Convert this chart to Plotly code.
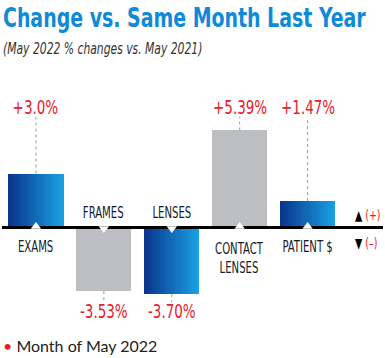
import plotly.graph_objects as go

categories = ["EXAMS", "FRAMES", "LENSES", "CONTACT<br>LENSES", "PATIENT $"]
values = [3.0, -3.53, -3.70, 5.39, 1.47]
value_labels = ["+3.0%", "-3.53%", "-3.70%", "+5.39%", "+1.47%"]
bar_style = ["blue", "gray", "blue", "gray", "blue"]

RED = "#e8202a"
GRAY_BAR = "#bdbec2"
BLUE_L = (10, 55, 140)
BLUE_R = (25, 160, 228)
NARROW = "DejaVu Sans Condensed, DejaVu Sans, sans-serif"

x = list(range(len(categories)))
W = 0.81
N = 24

fig = go.Figure()

# gray bars
gx = [i for i in x if bar_style[i] == "gray"]
fig.add_trace(go.Bar(x=gx, y=[values[i] for i in gx], width=W,
                     marker=dict(color=GRAY_BAR, line=dict(width=0)),
                     showlegend=False, hoverinfo="skip"))
# blue gradient bars (strips)
bx = [i for i in x if bar_style[i] == "blue"]
for k in range(N):
    t = k / (N - 1)
    c = tuple(int(BLUE_L[j] + (BLUE_R[j] - BLUE_L[j]) * t) for j in range(3))
    fig.add_trace(go.Bar(x=bx, y=[values[i] for i in bx], width=W / N * 1.08,
                         offset=-W / 2 + k * W / N,
                         marker=dict(color="rgb(%d,%d,%d)" % c, line=dict(width=0)),
                         showlegend=False, hoverinfo="skip"))

XMAX = 5.11
# baseline
fig.add_trace(go.Scatter(x=[-0.5, XMAX], y=[0, 0], mode="lines",
                         line=dict(color="black", width=3),
                         showlegend=False, hoverinfo="skip"))
# notches
fig.add_trace(go.Scatter(x=x, y=[0.05 if v > 0 else -0.05 for v in values], mode="markers",
                         marker=dict(symbol=["triangle-up" if v > 0 else "triangle-down" for v in values],
                                     color="white", size=9, line=dict(width=0)),
                         showlegend=False, hoverinfo="skip"))

POS_LABEL_Y = 6.69
NEG_LABEL_Y = -4.65
for i, v in enumerate(values):
    if v > 0:
        y0, y1, ly = v, 6.15, POS_LABEL_Y
        cy = -1.1 if "<br>" not in categories[i] else -1.75
    else:
        y0, y1, ly = v, -4.15, NEG_LABEL_Y
        cy = 0.8
    fig.add_shape(type="line", x0=i, x1=i, y0=y0, y1=y1,
                  line=dict(color="#9a9a9a", width=1, dash="dot"))
    fig.add_annotation(x=i, y=ly, text=value_labels[i], showarrow=False,
                       font=dict(family=NARROW, size=20, color=RED))
    fig.add_annotation(x=i, y=cy, text=categories[i], showarrow=False,
                       font=dict(family=NARROW, size=15, color="#151a2c"))

# up/down key
fig.add_annotation(x=4.67, y=0.69, text="▲ <span style='color:%s'>(+)</span>" % RED,
                   showarrow=False, xanchor="left", align="left",
                   font=dict(family=NARROW, size=14, color="black"))
fig.add_annotation(x=4.67, y=-0.86, text="▼ <span style='color:%s'>(–)</span>" % RED,
                   showarrow=False, xanchor="left", align="left",
                   font=dict(family=NARROW, size=14, color="black"))

# title / subtitle / footer
fig.add_annotation(xref="paper", yref="paper", x=-0.003, y=1.259, xanchor="left", yanchor="top",
                   align="left",
                   text="<b>Change vs. Same Month Last Year</b>", showarrow=False,
                   font=dict(family=NARROW, size=27, color="#0f8ad8"))
fig.add_annotation(xref="paper", yref="paper", x=-0.003, y=1.078, xanchor="left", yanchor="middle",
                   align="left",
                   text="<i>(May 2022 % changes vs. May 2021)</i>", showarrow=False,
                   font=dict(family=NARROW, size=16, color="#333333"))
fig.add_annotation(xref="paper", yref="paper", x=-0.003, y=-0.019, xanchor="left", yanchor="middle",
                   text="<span style='color:%s'>•</span> Month of May 2022" % RED, showarrow=False,
                   font=dict(family="Lato, sans-serif", size=16, color="#222222"))

fig.update_layout(
    width=385, height=358,
    margin=dict(l=2, r=2, t=70, b=18),
    paper_bgcolor="white", plot_bgcolor="white",
    barmode="overlay", bargap=0,
    xaxis=dict(range=[-0.5, XMAX], visible=False, fixedrange=True),
    yaxis=dict(range=[-6.25, 8.75], visible=False, fixedrange=True),
    showlegend=False,
)

post = """
document.body.style.margin='0px';
var els = document.querySelectorAll('.annotation-text');
els.forEach(function(t){
  if (t.textContent.indexOf('Month of May') >= 0) return;
  var a = t.getAttribute('text-anchor');
  var s = (t.textContent.indexOf('Change vs.') >= 0) ? 0.78 : 0.75;
  t.style.transformBox = 'fill-box';
  t.style.transformOrigin = (a === 'start') ? 'left center' : 'center center';
  t.style.transform = 'scaleX(' + s + ')';
});
"""

fig.write_html("out.html", config={"displayModeBar": False}, post_script=post)
